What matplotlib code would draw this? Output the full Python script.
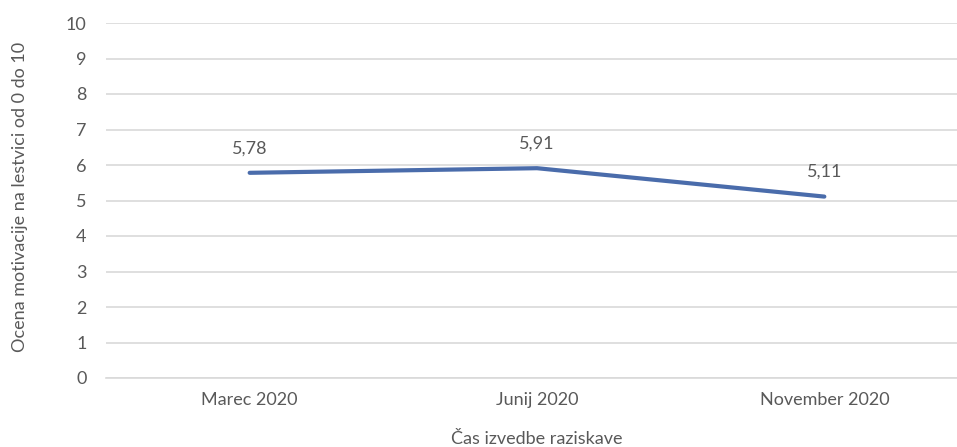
import matplotlib as mpl
import matplotlib.pyplot as plt
mpl.use('Agg')

kategorije = ["Marec 2020", "Junij 2020", "November 2020"]
ocene = [5.78, 5.91, 5.11]
oznake = ["5,78", "5,91", "5,11"]

siva = '#595959'
plt.rcParams['font.family'] = ['Lato', 'DejaVu Sans']

fig = plt.figure(figsize=(9.57, 4.47), dpi=100)
ax = fig.add_axes([106 / 957, 69 / 447, 862 / 957, 355 / 447])

x = list(range(len(kategorije)))
ax.plot(x, ocene, color='#4a6cab', linewidth=3, solid_capstyle='round')
for xi, v, t in zip(x, ocene, oznake):
    ax.annotate(t, (xi, v), xytext=(0, 12), textcoords='offset points',
                ha='center', va='bottom', fontsize=13, color=siva)

ax.set_xlim(-0.5, 2.5)
ax.set_ylim(0, 10)
ax.set_yticks(range(0, 11))
ax.set_xticks(x)
ax.set_xticklabels(kategorije)
ax.grid(axis='y', color='#d9d9d9', linewidth=1.2)
ax.set_axisbelow(True)
for s in ['top', 'right', 'left']:
    ax.spines[s].set_visible(False)
ax.spines['bottom'].set_color('#d9d9d9')
ax.spines['bottom'].set_linewidth(1.2)
ax.tick_params(length=0, labelsize=13, labelcolor=siva)
ax.tick_params(axis='y', pad=14)
ax.tick_params(axis='x', pad=10)

ax.set_xlabel("Čas izvedbe raziskave", fontsize=13, color=siva, labelpad=17)
fig.text(20 / 957, 0.56, "Ocena motivacije na lestvici od 0 do 10", rotation=90,
         ha='center', va='center', fontsize=13, color=siva)

fig.savefig('out.png', dpi=100)
